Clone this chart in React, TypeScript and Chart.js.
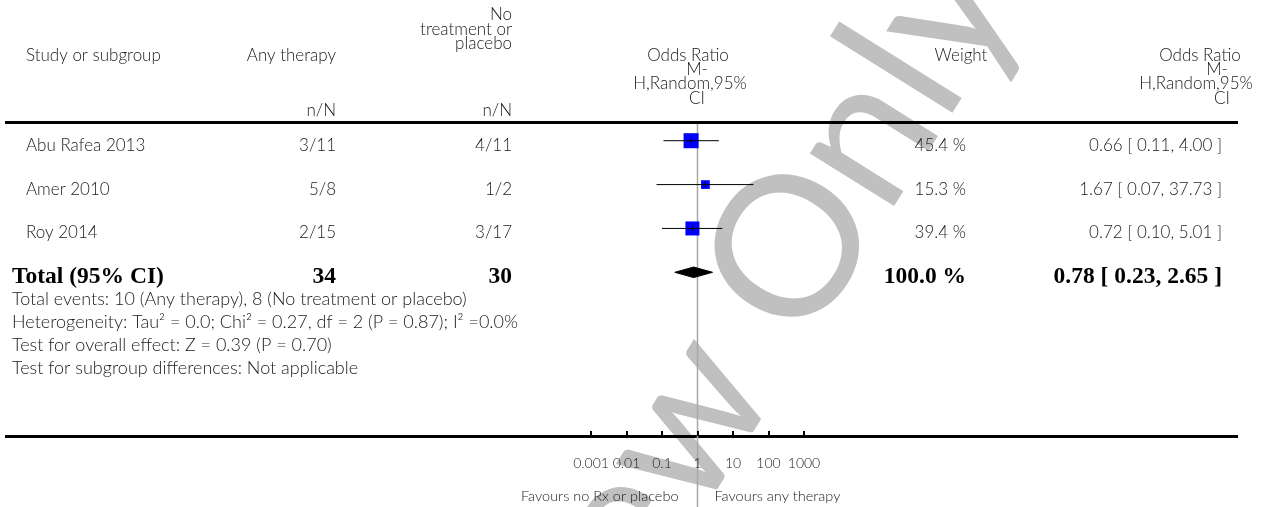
import React, { useEffect, useRef } from "react";
import { Chart, registerables } from "chart.js";

Chart.register(...registerables);

// ---------- data ----------
const studies = ["Abu Rafea 2013", "Amer 2010", "Roy 2014"];
const therapyNN = ["3/11", "5/8", "2/15"];
const controlNN = ["4/11", "1/2", "3/17"];
const oddsRatio = [0.66, 1.67, 0.72];
const ciLow = [0.11, 0.07, 0.1];
const ciHigh = [4.0, 37.73, 5.01];
const weights = [45.4, 15.3, 39.4];

const totalLabel = "Total (95% CI)";
const totalTherapy = 34;
const totalControl = 30;
const totalOR = 0.78;
const totalLow = 0.23;
const totalHigh = 2.65;
const totalWeight = 100.0;

const footnotes = [
  "Total events: 10 (Any therapy), 8 (No treatment or placebo)",
  "Heterogeneity: Tau\u00B2 = 0.0; Chi\u00B2 = 0.27, df = 2 (P = 0.87); I\u00B2 =0.0%",
  "Test for overall effect: Z = 0.39 (P = 0.70)",
  "Test for subgroup differences: Not applicable",
];

const tickValues = [0.001, 0.01, 0.1, 1, 10, 100, 1000];
const tickLabels = ["0.001", "0.01", "0.1", "1", "10", "100", "1000"];
const favoursLeft = "Favours no Rx or placebo";
const favoursRight = "Favours any therapy";
const watermarkWords = ["Review", "Only"];

// ---------- helpers ----------
const fmt2 = (v: number) => v.toFixed(2);
const ciString = (o: number, l: number, h: number) => `${fmt2(o)} [ ${fmt2(l)}, ${fmt2(h)} ]`;
const wString = (w: number) => `${w.toFixed(1)} %`;

const LIGHT = (s: number) => `300 ${s}px Lato, "Open Sans", sans-serif`;
const BOLD = (s: number) => `bold ${s}px "Liberation Serif", "Times New Roman", serif`;
const INK = "#1a1a1a";

function txt(ctx: CanvasRenderingContext2D, s: string, x: number, y: number, align: CanvasTextAlign, font: string, color = INK) {
  ctx.font = font;
  ctx.textAlign = align;
  ctx.textBaseline = "alphabetic";
  ctx.fillStyle = color;
  ctx.fillText(s, x, y);
}

export default function App() {
  const ref = useRef<HTMLCanvasElement>(null);

  useEffect(() => {
    const canvas = ref.current!;
    const totalRow = studies.length;
    const diamondHalf = 0.12;

    const forestPlugin = {
      id: "forestDecor",
      beforeDraw(chart: any) {
        const ctx = chart.ctx as CanvasRenderingContext2D;
        ctx.save();
        // watermark: the "O" of the second word is centred on an anchor point
        const size = 196;
        ctx.font = `400 ${size}px Lato, "Open Sans", sans-serif`;
        const om = ctx.measureText("O");
        const oMid = (om.actualBoundingBoxAscent - om.actualBoundingBoxDescent) / 2;
        const gap = size * 0.24;
        ctx.translate(786, 245);
        ctx.rotate((-58 * Math.PI) / 180);
        ctx.fillStyle = "#c0c0c0";
        ctx.textBaseline = "alphabetic";
        ctx.textAlign = "left";
        ctx.fillText(watermarkWords[1], -om.width / 2, oMid);
        ctx.textAlign = "right";
        ctx.fillText(watermarkWords[0], -om.width / 2 - gap, oMid);
        ctx.restore();
      },
      beforeDatasetsDraw(chart: any) {
        const ctx = chart.ctx as CanvasRenderingContext2D;
        const xs = chart.scales.x;
        const area = chart.chartArea;
        ctx.save();
        // horizontal rules
        ctx.fillStyle = "#000";
        ctx.fillRect(5, area.top - 3, 1233, 3);
        ctx.fillRect(5, area.bottom - 2, 1233, 3);
        // line of no effect
        const x1 = xs.getPixelForValue(1);
        ctx.strokeStyle = "#a8a8a8";
        ctx.lineWidth = 1.5;
        ctx.beginPath();
        ctx.moveTo(x1, area.top);
        ctx.lineTo(x1, chart.height);
        ctx.stroke();
        // ticks (inward) + labels
        tickValues.forEach((v, i) => {
          const x = xs.getPixelForValue(v);
          ctx.fillStyle = "#000";
          ctx.fillRect(Math.round(x) - 1, area.bottom - 6, 2, 5);
          txt(ctx, tickLabels[i], x, 468, "center", LIGHT(14));
        });
        txt(ctx, favoursLeft, x1 - 19, 501, "right", LIGHT(14.5));
        txt(ctx, favoursRight, x1 + 17, 501, "left", LIGHT(14.5));
        ctx.restore();
      },
      afterDraw(chart: any) {
        const ctx = chart.ctx as CanvasRenderingContext2D;
        const ys = chart.scales.y;
        ctx.save();
        const f = LIGHT(17);
        // headers
        txt(ctx, "Study or subgroup", 26, 61, "left", f);
        txt(ctx, "Any therapy", 336, 61, "right", f);
        txt(ctx, "No", 512, 20, "right", f);
        txt(ctx, "treatment or", 512, 35, "right", f);
        txt(ctx, "placebo", 512, 49, "right", f);
        txt(ctx, "n/N", 336, 116, "right", f);
        txt(ctx, "n/N", 512, 116, "right", f);
        txt(ctx, "Odds Ratio", 688, 61, "center", f);
        txt(ctx, "M-", 697, 75, "center", f);
        txt(ctx, "H,Random,95%", 690, 89, "center", f);
        txt(ctx, "CI", 697, 104, "center", f);
        txt(ctx, "Weight", 961, 61, "center", f);
        txt(ctx, "Odds Ratio", 1200, 61, "center", f);
        txt(ctx, "M-", 1217, 75, "center", f);
        txt(ctx, "H,Random,95%", 1196, 89, "center", f);
        txt(ctx, "CI", 1222, 104, "center", f);
        // study rows
        studies.forEach((s, i) => {
          const y = ys.getPixelForValue(i) + 10;
          txt(ctx, s, 26, y, "left", f);
          txt(ctx, therapyNN[i], 336, y, "right", f);
          txt(ctx, controlNN[i], 512, y, "right", f);
          txt(ctx, wString(weights[i]), 966, y, "right", f);
          txt(ctx, ciString(oddsRatio[i], ciLow[i], ciHigh[i]), 1222, y, "right", f);
        });
        // total row
        const ty = ys.getPixelForValue(totalRow) + 11;
        const b = BOLD(23.5);
        txt(ctx, totalLabel, 12, ty, "left", b, "#000");
        txt(ctx, String(totalTherapy), 336, ty, "right", b, "#000");
        txt(ctx, String(totalControl), 512, ty, "right", b, "#000");
        txt(ctx, wString(totalWeight), 966, ty, "right", b, "#000");
        txt(ctx, ciString(totalOR, totalLow, totalHigh), 1222, ty, "right", b, "#000");
        // footnotes
        const fy = [305, 328, 351, 374];
        footnotes.forEach((s, i) => txt(ctx, s, 12, fy[i], "left", LIGHT(18)));
        ctx.restore();
      },
    };

    const ciSets = studies.map((_, i) => ({
      type: "line" as const,
      data: [
        { x: ciLow[i], y: i },
        { x: ciHigh[i], y: i },
      ],
      showLine: true,
      borderColor: "#000",
      borderWidth: 1,
      pointRadius: 0,
      fill: false,
      order: 0,
    }));

    const chart = new Chart(canvas, {
      type: "scatter",
      data: {
        datasets: [
          ...ciSets,
          {
            // point-estimate tick marks
            data: oddsRatio.map((o, i) => ({ x: o, y: i })),
            pointStyle: "line",
            rotation: 90,
            pointRadius: 2.5,
            borderColor: "#000",
            borderWidth: 1,
            order: 0,
          },
          {
            // weighted squares
            data: oddsRatio.map((o, i) => ({ x: o, y: i })),
            pointStyle: "rect",
            pointRadius: (c: any) => 1.578 * Math.sqrt(weights[c.dataIndex] ?? 0),
            backgroundColor: "#0000ff",
            borderWidth: 0,
            order: 2,
          },
          {
            // pooled diamond
            type: "line" as const,
            data: [
              { x: totalLow, y: totalRow },
              { x: totalOR, y: totalRow - diamondHalf },
              { x: totalHigh, y: totalRow },
              { x: totalOR, y: totalRow + diamondHalf },
              { x: totalLow, y: totalRow },
            ],
            showLine: true,
            borderColor: "#000",
            borderWidth: 1,
            backgroundColor: "#000",
            pointRadius: 0,
            tension: 0,
            fill: "shape",
            order: 1,
          },
        ] as any,
      },
      options: {
        animation: false,
        responsive: false,
        events: [],
        layout: { padding: { left: 591, right: 464, top: 124, bottom: 70 } },
        plugins: { legend: { display: false }, tooltip: { enabled: false } },
        scales: {
          x: { type: "logarithmic", min: 0.001, max: 1000, display: false, bounds: "data" },
          y: { type: "linear", min: -0.381, max: 6.754, reverse: true, display: false, bounds: "data" },
        },
      } as any,
      plugins: [forestPlugin],
    });
    return () => chart.destroy();
  }, []);

  return (
    <div style={{ position: "fixed", left: 0, top: 0, width: 1268, height: 507, background: "#fff" }}>
      <canvas ref={ref} width={1268} height={507} style={{ display: "block", width: 1268, height: 507 }} />
    </div>
  );
}
